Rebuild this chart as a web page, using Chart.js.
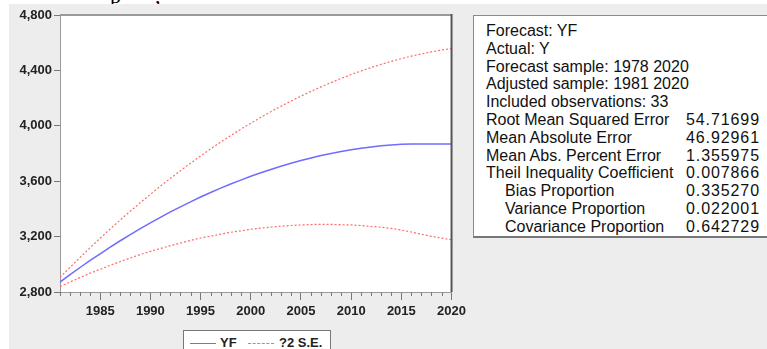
<!DOCTYPE html>
<html>
<head>
<meta charset="utf-8">
<script src="https://cdn.jsdelivr.net/npm/chart.js@4.4.1/dist/chart.umd.min.js"></script>
<style>
  html, body { margin: 0; padding: 0; background: #fff; }
  body { width: 767px; height: 349px; position: relative; overflow: hidden;
         font-family: "Liberation Sans", Arial, sans-serif; }
  .caption { position: absolute; top: -17px; font-family: "Liberation Serif", "Times New Roman", serif;
             font-size: 22px; color: #000; }
  .panel { position: absolute; left: 9px; top: 4px; width: 758px; height: 345px; background: #ededed; }
  .chart-wrap { position: absolute; left: 0; top: 0; width: 470px; height: 330px; }
  .stats { position: absolute; left: 473px; top: 15px; width: 310px; height: 223px; box-sizing: border-box;
           background: #fff; border: 1px solid #8a8a8a; border-bottom: 2px solid #777;
           padding: 6px 0 0 12px; font-size: 16px; line-height: 17.8px; color: #111; }
  .stats .row { position: relative; height: 17.8px; white-space: nowrap; }
  .stats .row.sub { padding-left: 19px; }
  .stats .val { position: absolute; left: 200px; top: 0; letter-spacing: 0.9px; }
  .legend { position: absolute; left: 183px; top: 330px; width: 148px; height: 30px; box-sizing: border-box;
            background: #fff; border: 1px solid #777; font-size: 13px; font-weight: bold; color: #222; }
  .legend .key { position: absolute; top: 12px; width: 26px; height: 0; }
  .legend .lbl { position: absolute; top: 4px; }
</style>
</head>
<body>
<span class="caption" style="left:110px">p</span>
<span class="caption" style="left:155px">,</span>
<div class="panel"></div>
<div class="chart-wrap"><canvas id="forecastChart"></canvas></div>
<div class="stats" id="stats"></div>
<div class="legend">
  <div class="key" style="left:6px; border-top:1.5px solid #6f6cff;"></div>
  <div class="lbl" style="left:36px">YF</div>
  <div class="key" style="left:64px; border-top:1px dashed #ff6a6a;"></div>
  <div class="lbl" style="left:95px">?2 S.E.</div>
</div>
<script>
// forecast horizon
const years = [1981, 1982, 1983, 1984, 1985, 1986, 1987, 1988, 1989, 1990,
  1991, 1992, 1993, 1994, 1995, 1996, 1997, 1998, 1999, 2000,
  2001, 2002, 2003, 2004, 2005, 2006, 2007, 2008, 2009, 2010,
  2011, 2012, 2013, 2014, 2015, 2016, 2017, 2018, 2019, 2020];

// YF point forecast
const yfValues = [2872, 2925, 2977, 3028, 3076, 3124, 3170, 3214, 3258, 3299,
  3339, 3378, 3415, 3451, 3486, 3518, 3550, 3580, 3608, 3636,
  3661, 3685, 3708, 3729, 3749, 3768, 3785, 3800, 3814, 3827,
  3838, 3847, 3856, 3862, 3866, 3868, 3868, 3868, 3868, 3868];

// YF + 2 S.E.
const upperValues = [2905, 2978, 3050, 3120, 3188, 3255, 3320, 3383, 3445, 3505,
  3564, 3621, 3676, 3730, 3782, 3833, 3882, 3929, 3975, 4019,
  4061, 4102, 4141, 4178, 4214, 4249, 4281, 4312, 4342, 4370,
  4396, 4421, 4444, 4465, 4485, 4503, 4519, 4534, 4547, 4559];

// YF - 2 S.E.
const lowerValues = [2839, 2872, 2904, 2936, 2964, 2993, 3020, 3045, 3071, 3093,
  3114, 3135, 3154, 3172, 3190, 3203, 3218, 3231, 3241, 3253,
  3261, 3268, 3275, 3280, 3284, 3287, 3289, 3288, 3286, 3284,
  3280, 3273, 3268, 3259, 3247, 3233, 3217, 3202, 3189, 3177];

const xTickYears = [1985, 1990, 1995, 2000, 2005, 2010, 2015, 2020];
const yTickValues = [2800, 3200, 3600, 4000, 4400, 4800];

const statRows = [
  ["Forecast: YF", "", false],
  ["Actual: Y", "", false],
  ["Forecast sample: 1978 2020", "", false],
  ["Adjusted sample: 1981 2020", "", false],
  ["Included observations: 33", "", false],
  ["Root Mean Squared Error", "54.71699", false],
  ["Mean Absolute Error", "46.92961", false],
  ["Mean Abs. Percent Error", "1.355975", false],
  ["Theil Inequality Coefficient", "0.007866", false],
  ["Bias Proportion", "0.335270", true],
  ["Variance Proportion", "0.022001", true],
  ["Covariance Proportion", "0.642729", true],
];

document.getElementById("stats").innerHTML = statRows
  .map(([label, val, sub]) => `
    <div class="row${sub ? " sub" : ""}">${label}${val ? `<span class="val">${val}</span>` : ""}</div>`)
  .join("");

const toPoints = (vals) => years.map((yr, i) => ({ x: yr, y: vals[i] }));

const axisFont = { family: "'Liberation Sans', Arial, sans-serif", size: 13, weight: "bold" };

// white plot area, yearly minor ticks and the box frame
const framePlugin = {
  id: "frame",
  beforeDraw(chart) {
    const { ctx, chartArea: a } = chart;
    ctx.save();
    ctx.fillStyle = "#fff";
    ctx.fillRect(a.left, a.top, a.right - a.left, a.bottom - a.top);
    ctx.restore();
  },
  afterDraw(chart) {
    const { ctx, chartArea: a } = chart;
    const xs = chart.scales.x;
    ctx.save();
    ctx.strokeStyle = "#777";
    ctx.lineWidth = 1;
    ctx.beginPath();
    years.forEach((yr) => {
      if (xTickYears.includes(yr)) return;
      const px = Math.round(xs.getPixelForValue(yr)) + 0.5;
      ctx.moveTo(px, a.bottom);
      ctx.lineTo(px, a.bottom + 4);
    });
    ctx.stroke();
    ctx.strokeStyle = "#9a9a9a";
    ctx.lineWidth = 2;
    ctx.beginPath();
    ctx.moveTo(a.left, a.top);
    ctx.lineTo(a.right, a.top);
    ctx.stroke();
    ctx.strokeStyle = "#555";
    ctx.beginPath();
    ctx.moveTo(a.right, a.top - 1);
    ctx.lineTo(a.right, a.bottom);
    ctx.stroke();
    ctx.restore();
  },
};

new Chart(document.getElementById("forecastChart"), {
  type: "line",
  data: {
    datasets: [
      { label: "upper", data: toPoints(upperValues), borderColor: "#ff6a6a",
        borderWidth: 1.2, borderDash: [2, 2], pointRadius: 0, tension: 0 },
      { label: "lower", data: toPoints(lowerValues), borderColor: "#ff6a6a",
        borderWidth: 1.2, borderDash: [2, 2], pointRadius: 0, tension: 0 },
      { label: "YF", data: toPoints(yfValues), borderColor: "#6f6cff",
        borderWidth: 1.5, pointRadius: 0, tension: 0 },
    ],
  },
  options: {
    responsive: true,
    maintainAspectRatio: false,
    animation: false,
    layout: { padding: { top: 15, right: 16, left: 0, bottom: 0 } },
    plugins: { legend: { display: false }, tooltip: { enabled: false } },
    scales: {
      x: {
        type: "linear", min: 1981, max: 2020,
        afterBuildTicks: (s) => { s.ticks = xTickYears.map((v) => ({ value: v })); },
        afterFit: (s) => { s.height = 38; },
        ticks: { font: axisFont, color: "#222", padding: 4, maxRotation: 0, autoSkip: false,
                 callback: (v) => String(v) },
        grid: { drawOnChartArea: false, drawTicks: true, tickLength: 8, color: "#777" },
        border: { color: "#9a9a9a", width: 1 },
      },
      y: {
        min: 2800, max: 4800,
        afterBuildTicks: (s) => { s.ticks = yTickValues.map((v) => ({ value: v })); },
        afterFit: (s) => { s.width = 60; },
        ticks: { font: axisFont, color: "#222", padding: 2,
                 callback: (v) => v.toLocaleString("en-US") },
        grid: { drawOnChartArea: false, drawTicks: true, tickLength: 6, color: "#777" },
        border: { color: "#9a9a9a", width: 1 },
      },
    },
  },
  plugins: [framePlugin],
});
</script>
</body>
</html>
